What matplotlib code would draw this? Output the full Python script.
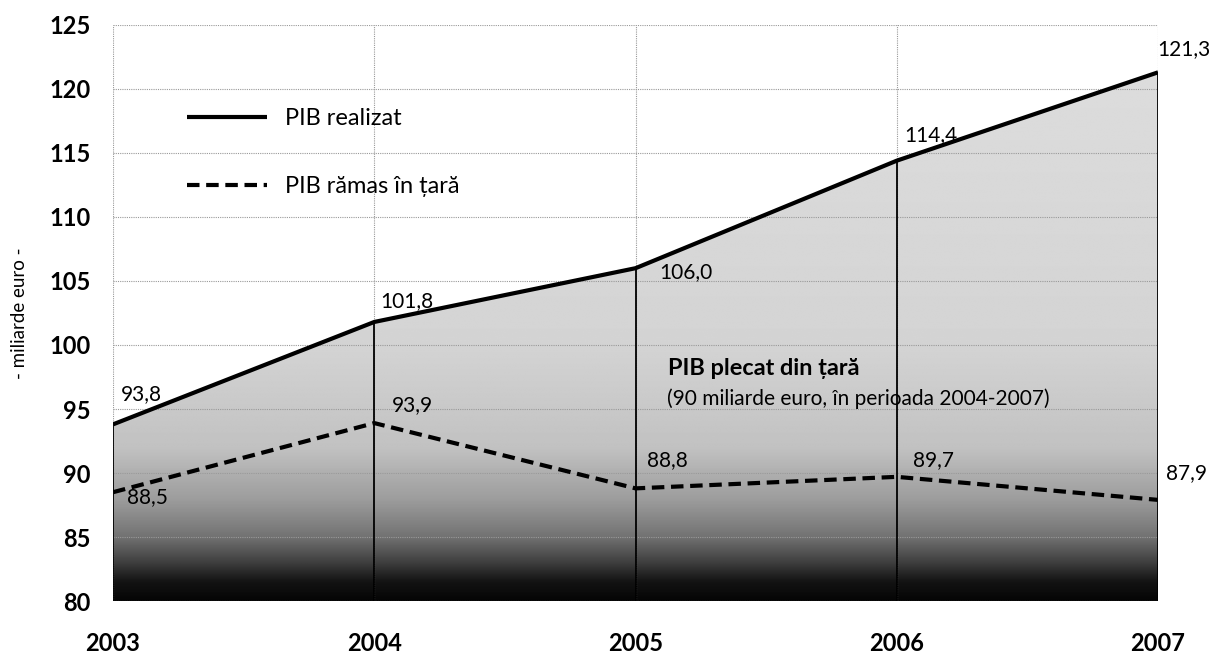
import numpy as np
import matplotlib
matplotlib.use("Agg")
import matplotlib.pyplot as plt
from matplotlib.colors import LinearSegmentedColormap

plt.rcParams['font.family'] = ['Lato', 'DejaVu Sans']

years = [2003, 2004, 2005, 2006, 2007]
pib_realizat = [93.8, 101.8, 106.0, 114.4, 121.3]
pib_ramas = [88.5, 93.9, 88.8, 89.7, 87.9]
labels_realizat = ["93,8", "101,8", "106,0", "114,4", "121,3"]
labels_ramas = ["88,5", "93,9", "88,8", "89,7", "87,9"]
yticks = [80, 85, 90, 95, 100, 105, 110, 115, 120, 125]

# label placement (x offset in years, y position in data units)
lab_real_pos = [(0.107, 96.2), (0.125, 103.4), (0.193, 105.7), (0.13, 116.4), (0.097, 123.1)]
lab_ramas_pos = [(0.13, 88.1), (0.145, 95.3), (0.12, 91.0), (0.14, 91.0), (0.11, 90.0)]

fig = plt.figure(figsize=(12.13, 6.57), dpi=100)
ax = fig.add_axes([0.0932, 0.0852, 0.8615, 0.8768])
ax.set_xlim(2003, 2007)
ax.set_ylim(80, 125)

# grid
ax.set_yticks(yticks)
ax.set_xticks(years)
ax.grid(True, color='#999999', linestyle=(0, (1, 1)), linewidth=0.8, zorder=0)
for s in ax.spines.values():
    s.set_visible(False)
ax.set_xticklabels([str(y) for y in years], fontweight='bold', fontsize=17)
ax.set_yticklabels([str(v) for v in yticks], fontweight='bold', fontsize=17)
ax.tick_params(axis='y', length=0, pad=16)
ax.tick_params(axis='x', length=0, pad=22)

# gradient fill under realized GDP
stops_y = [80, 81.5, 83, 85, 88, 92, 100, 125]
stops_v = [0.02, 0.08, 0.25, 0.45, 0.62, 0.76, 0.83, 0.87]
yy = np.linspace(80, 125, 400)
vals = np.interp(yy, stops_y, stops_v)
grad = np.tile(vals[:, None], (1, 10))
cmap = LinearSegmentedColormap.from_list('g', ['black', 'white'])
im = ax.imshow(grad, extent=[2003, 2007, 80, 125], origin='lower', aspect='auto',
               cmap=cmap, vmin=0, vmax=1, zorder=1, interpolation='bilinear')
poly = ax.fill_between(years, 80, pib_realizat, color='none', zorder=1)
im.set_clip_path(poly.get_paths()[0], transform=ax.transData)

# vertical lines
ax.vlines(years, 80, pib_realizat, color='black', linewidth=1.3, zorder=3)

# lines
l1, = ax.plot(years, pib_realizat, color='black', linewidth=3, zorder=4,
              solid_capstyle='butt', label='PIB realizat')
l2, = ax.plot(years, pib_ramas, color='black', linewidth=3, linestyle=(0, (3, 1.6)),
              zorder=4, label='PIB rămas în țară')

for (x, t, (dx, ty)) in zip(years, labels_realizat, lab_real_pos):
    ax.text(x + dx, ty, t, fontsize=15, ha='center', va='center', zorder=5)
for (x, t, (dx, ty)) in zip(years, labels_ramas, lab_ramas_pos):
    ax.text(x + dx, ty, t, fontsize=15, ha='center', va='center', zorder=5)

ax.text(2005.124, 98.2, "PIB plecat din țară", fontsize=16.9, fontweight='bold',
        ha='left', va='center', zorder=5)
ax.text(2005.12, 95.8, "(90 miliarde euro, în perioada 2004-2007)", fontsize=15,
        ha='left', va='center', zorder=5)

leg = ax.legend(handles=[l1, l2], loc='center left', bbox_to_anchor=(0.0708, 0.7786),
                frameon=False, fontsize=17, handlelength=3.4, handletextpad=0.76,
                labelspacing=2.0, borderaxespad=0, borderpad=0)

ax.set_ylabel("- miliarde euro -", fontsize=13.5)
ax.yaxis.set_label_coords(-0.081, 0.5)

fig.savefig("out.png", dpi=100)
